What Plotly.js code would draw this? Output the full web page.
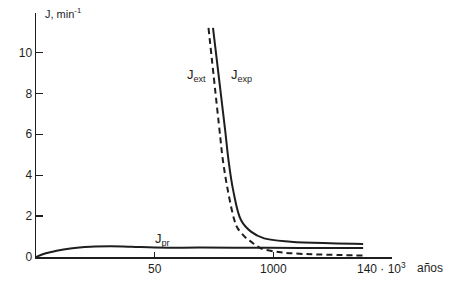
<!DOCTYPE html>
<html>
<head>
<meta charset="utf-8">
<script src="https://cdn.plot.ly/plotly-3.0.1.min.js"></script>
<style>html,body{margin:0;padding:0;background:#fff;}#chart{width:450px;height:281px;}</style>
</head>
<body>
<div id="chart"></div>
<script>
// Broken (piecewise) time axis: break points in years and their tick labels
var axisBreaks = [0, 50, 1000, 140000];
var tickLabels = ["50", "1000", ""];
var lastTickLabel = "140 · 10<sup>3</sup>";
var unitLabel = "años";

// J_exp (solid)
var expYears = [517, 614, 641, 678, 741, 821, 927, 21300, 67900, 106200];
var expJ     = [11.2, 6.21, 4.74, 3.28, 1.81, 1.24, 0.91, 0.75, 0.67, 0.64];

// J_ext (dashed)
var extYears = [481, 569, 596, 635, 688, 715, 781, 821, 900, 9700, 36400, 67900, 106200];
var extJ     = [11.2, 6.21, 4.74, 3.28, 1.81, 1.40, 0.93, 0.75, 0.43, 0.23, 0.15, 0.11, 0.07];

// J_pr (solid, low)
var prYears = [0, 3.8, 8.1, 14.5, 23, 31.6, 40.2, 50, 423, 821, 33000, 106200];
var prJ     = [0, 0.17, 0.29, 0.42, 0.50, 0.52, 0.50, 0.46, 0.46, 0.45, 0.44, 0.44];

// map a year value onto the broken axis (each segment has equal length)
function toAxis(v) {
  for (var i = 0; i < axisBreaks.length - 1; i++) {
    if (v <= axisBreaks[i + 1]) {
      return i + (v - axisBreaks[i]) / (axisBreaks[i + 1] - axisBreaks[i]);
    }
  }
  return axisBreaks.length - 1;
}

var ink = '#1e1e1e';
var fam = 'Liberation Sans, Arial, sans-serif';
var font = {family: fam, size: 12, color: ink};

var traces = [
  {x: expYears.map(toAxis), y: expJ, mode: 'lines', line: {color: ink, width: 2, shape: 'spline', smoothing: 1}, hoverinfo: 'skip'},
  {x: extYears.map(toAxis), y: extJ, mode: 'lines', line: {color: ink, width: 2, dash: '6px,4px', shape: 'spline', smoothing: 1}, hoverinfo: 'skip'},
  {x: prYears.map(toAxis), y: prJ, mode: 'lines', line: {color: ink, width: 2, shape: 'spline', smoothing: 1}, hoverinfo: 'skip'}
];

var layout = {
  width: 450, height: 281,
  margin: {l: 36, r: 58, t: 13, b: 24},
  paper_bgcolor: '#fff', plot_bgcolor: '#fff',
  showlegend: false,
  font: font,
  xaxis: {
    range: [0, 3], showgrid: false, zeroline: false,
    showline: true, linecolor: ink, linewidth: 1.5,
    ticks: 'inside', ticklen: 5, tickwidth: 1.2, tickcolor: ink,
    tickvals: [1, 2, 3], ticktext: tickLabels,
    tickfont: font, fixedrange: true
  },
  yaxis: {
    range: [0, 11.93], showgrid: false, zeroline: false,
    showline: true, linecolor: ink, linewidth: 1.5,
    ticks: 'inside', ticklen: 7, tickwidth: 1.2, tickcolor: ink,
    tickvals: [0, 2, 4, 6, 8, 10],
    tickfont: font, fixedrange: true
  },
  annotations: [
    {text: 'J, min<sup>-1</sup>', xref: 'paper', yref: 'paper', x: 0.02, y: 1.0, xanchor: 'left', yanchor: 'middle', showarrow: false, font: {family: fam, size: 11, color: ink}},
    {text: 'J<sub>ext</sub>', xref: 'paper', yref: 'paper', x: 0.483, y: 0.745, xanchor: 'right', yanchor: 'middle', showarrow: false, font: {family: fam, size: 13, color: ink}},
    {text: 'J<sub>exp</sub>', xref: 'paper', yref: 'paper', x: 0.542, y: 0.745, xanchor: 'left', yanchor: 'middle', showarrow: false, font: {family: fam, size: 13, color: ink}},
    {text: 'J<sub>pr</sub>', xref: 'paper', yref: 'paper', x: 0.329, y: 0.07, xanchor: 'left', yanchor: 'middle', showarrow: false, font: {family: fam, size: 13, color: ink}},
    {text: lastTickLabel, xref: 'paper', yref: 'paper', x: 1.045, y: -0.045, xanchor: 'right', yanchor: 'middle', showarrow: false, font: font},
    {text: unitLabel, xref: 'paper', yref: 'paper', x: 1.065, y: -0.045, xanchor: 'left', yanchor: 'middle', showarrow: false, font: font}
  ]
};

Plotly.newPlot('chart', traces, layout, {displayModeBar: false, staticPlot: true});
</script>
</body>
</html>
